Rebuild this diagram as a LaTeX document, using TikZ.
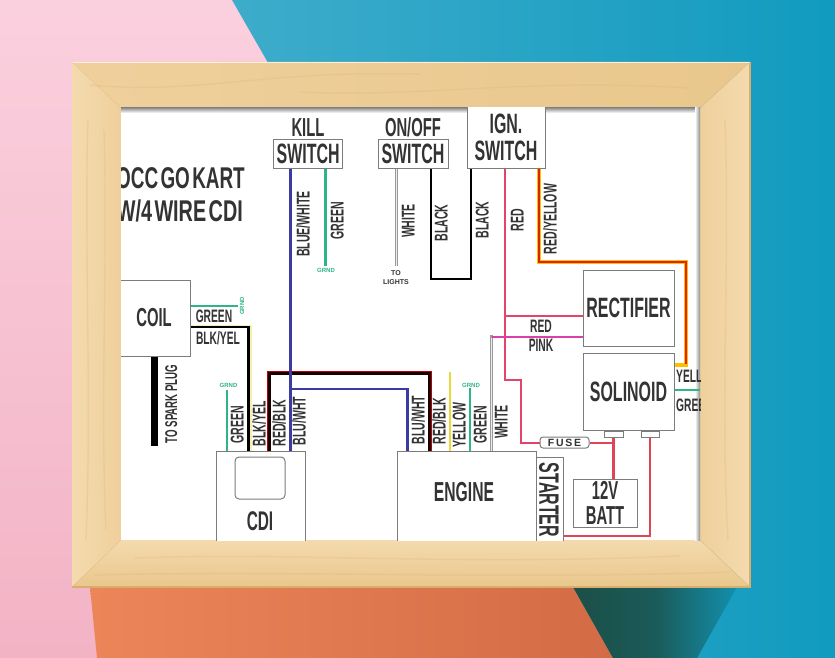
\documentclass[tikz,border=0pt]{standalone}
\usepackage{fontspec}
\setmainfont{Liberation Sans}
\newfontfamily\cond[FakeStretch=0.57]{Liberation Sans}
\newfontfamily\condwide[FakeStretch=0.66,WordSpace=0.45]{Liberation Sans}
\newfontfamily\condtitle[FakeStretch=0.63,WordSpace=0.45]{Liberation Sans}
\usetikzlibrary{calc}
\definecolor{wgreen}{HTML}{2DB584}
\definecolor{wblue}{HTML}{3B3BA0}
\definecolor{wred}{HTML}{E2456A}
\definecolor{wredb}{HTML}{E04555}
\definecolor{wpink}{HTML}{DB3FA8}
\definecolor{wyel}{HTML}{EBD83A}
\definecolor{wgray}{HTML}{9A9A9A}
\definecolor{ink}{HTML}{333333}
\definecolor{boxline}{HTML}{7C7C7C}
\definecolor{pinkA}{HTML}{FBD0DE}
\definecolor{pinkB}{HTML}{F2B3C5}
\definecolor{blueA}{HTML}{3EACCB}
\definecolor{blueB}{HTML}{119BBF}
\definecolor{oranA}{HTML}{EC8558}
\definecolor{oranB}{HTML}{D36C46}
\definecolor{tealA}{HTML}{1C4F47}
\definecolor{woodA}{HTML}{EFD09C}
\definecolor{woodB}{HTML}{E9C78C}
\definecolor{woodC}{HTML}{F4DAAE}
\definecolor{woodD}{HTML}{D9AE6C}
\tikzset{
  lab/.style={inner sep=0pt,text=ink,font=\cond\bfseries\fontsize{#1}{#1}\selectfont,text height=#1*0.72pt,text depth=0pt},
  lab/.default=18,
  vlab/.style={lab=#1,rotate=90},
  vlab/.default=18.5,
  titlelab/.style={inner sep=0pt,text=ink,anchor=east,font=\condwide\bfseries\fontsize{30}{30}\selectfont,text height=21.6pt,text depth=0pt},
  tinylab/.style={inner sep=0pt,text=wgreen,font=\bfseries\fontsize{6}{6}\selectfont},
  boxn/.style={draw=boxline,line width=1pt,fill=white,inner sep=0pt,text=ink,align=center,font=\cond\bfseries\fontsize{28}{27}\selectfont},
  wire/.style={line width=2.6pt,line join=miter,line cap=butt},
  thinwire/.style={line width=2.1pt,line join=miter,line cap=butt},
  woodgrain/.style={line width=1.4pt,draw=woodD,opacity=.22,line cap=round},
}
\begin{document}
\begin{tikzpicture}[x=1pt,y=-1pt]
\useasboundingbox (0,0) rectangle (835,658);
% wall
\shade[top color=pinkA,bottom color=pinkB] (0,0) rectangle (300,658);
\shade[left color=blueA,right color=blueB] (232,0) -- (835,0) -- (835,658) -- (560,658) -- (267,61) -- cycle;
\shade[left color=oranA,right color=oranB] (90,587) -- (573,587) -- (613,658) -- (97,658) -- cycle;
\shade[left color=tealA,right color=blueB!85!tealA,middle color=tealA!85!blueB] (573,587) -- (737,587) -- (697,658) -- (613,658) -- cycle;
% frame
\shade[left color=woodA,right color=woodB] (72,62) -- (750,62) -- (700,108) -- (121,108) -- cycle;
\shade[left color=woodC,right color=woodA] (72,62) -- (121,108) -- (121,540) -- (72,587) -- cycle;
\shade[left color=woodA,right color=woodC] (750,62) -- (700,108) -- (700,540) -- (750,587) -- cycle;
\shade[top color=woodC,bottom color=woodB] (72,587) -- (121,540) -- (700,540) -- (750,587) -- cycle;
\draw[woodgrain] (90,85) .. controls (200,95) and (260,70) .. (420,74);
\draw[woodgrain] (300,92) .. controls (420,98) and (520,78) .. (690,88);
\draw[woodgrain] (135,558) .. controls (300,552) and (450,566) .. (680,556);
\draw[woodgrain] (95,575) .. controls (300,570) and (500,580) .. (730,572);
\draw[woodgrain] (88,120) .. controls (84,240) and (92,400) .. (86,540);
\draw[woodgrain] (104,130) .. controls (108,260) and (100,400) .. (106,530);
\draw[woodgrain] (725,120) .. controls (730,260) and (720,400) .. (728,540);
\draw[woodD,line width=1.2pt] (72,587) -- (750,587) -- (750,62);
\draw[white!60!woodC,line width=1.2pt] (72,62.5) -- (750,62.5);
\draw[woodD,opacity=.35,line width=.6pt] (72,62) -- (121,108) (750,62) -- (700,108) (72,587) -- (121,540) (750,587) -- (700,540);
% picture paper
\fill[white] (121,108) rectangle (700,540);
\begin{scope}
\clip (121,108) rectangle (700,540);
\shade[top color=gray!85,bottom color=white] (121,108) rectangle (700,113);
\shade[left color=white,right color=gray!90] (695,108) rectangle (700,540);
% boxes
\node[boxn,minimum width=69pt,minimum height=28pt] (kill) at (308.2,154) {SWITCH};
\node[boxn,minimum width=70pt,minimum height=28pt] (onoff) at (413,154) {SWITCH};
\node[boxn,minimum width=78pt,minimum height=62pt] (ign) at (506,137) {IGN.\\SWITCH};
\node[boxn,minimum width=91pt,minimum height=76pt] (rect) at (628.5,308) {RECTIFIER};
\node[boxn,minimum width=91pt,minimum height=77pt] (sol) at (628.5,391.5) {SOLINOID};
\node[boxn,minimum width=90pt,minimum height=76pt] (coil) at (145,318) {};
\node[boxn,minimum width=89pt,minimum height=100pt] (cdi) at (260.5,501) {};
\node[boxn,minimum width=50pt,minimum height=42pt,rounded corners=4pt] (cdiin) at (260,478) {};
\node[boxn,minimum width=139pt,minimum height=100pt] (eng) at (466.5,501) {};
\node[boxn,minimum width=27pt,minimum height=92pt] (start) at (549.5,503) {};
\node[boxn,minimum width=64pt,minimum height=48pt,font=\cond\bfseries\fontsize{26}{24.5}\selectfont] (batt) at (605,503) {12V\\BATT};
\node[boxn,minimum width=19pt,minimum height=6pt] (t1) at (613.5,434) {};
\node[boxn,minimum width=18pt,minimum height=6pt] (t2) at (650,434) {};
\node[boxn,minimum width=49pt,minimum height=11pt,rounded corners=3pt,font=\bfseries\fontsize{10.5}{10.5}\selectfont] (fuse) at (564.5,442.5) {F\,U\,S\,E};
% free ends
\coordinate (killgnd) at (325.5,266);
\coordinate (lights) at (396.5,266);
\coordinate (coilgnd) at (238,306);
\coordinate (cdignd) at (227,390);
\coordinate (enggnd) at (470,388);
\coordinate (engyel) at (450,372);
\coordinate (solout) at (700,390);
% wires
\draw[wire,wgreen] (325.5,0 |- kill.south) -- (killgnd);
\draw[line width=3.2pt,wgray] (396.5,0 |- onoff.south) -- (lights);
\draw[line width=1.2pt,white!85!gray] (396.5,0 |- onoff.south) -- (lights);
\draw[wire,black] (431,0 |- onoff.south) -- (431,279) -- (471,279) -- (471,0 |- ign.south);
\draw[wire,wred] (505,0 |- ign.south) -- (505,380) -- (521,380) -- (521,443) -- (fuse.west |- 0,443);
\draw[wire,wred] (505,316) -- (rect.west |- 0,316);
\draw[line width=3.2pt,wgray,line join=miter] (491.5,0 |- eng.north) -- (491.5,337) -- (493,337);
\draw[line width=1.2pt,white!85!gray] (491.5,0 |- eng.north) -- (491.5,338);
\draw[thinwire,wpink] (492,337) -- (rect.west |- 0,337);
\draw[line width=4pt,line join=miter,orange!50!yellow] (539,0 |- ign.south) -- (539,262) -- (686,262) -- (686,365) -- (sol.east |- 0,365);
\draw[thinwire,red!65!orange!85!black] (539,0 |- ign.south) -- (539,262) -- (686,262) -- (686,364);
\draw[wire,wredb] (fuse.east |- 0,443) -- (613.5,443) -- (613.5,0 |- batt.north);
\draw[wire,wredb] (613.5,443) -- (t1.south);
\draw[wire,wredb] (t2.south) -- (650,536) -- (start.east |- 0,536);
\draw[wire,wgreen] (sol.east |- solout) -- (solout);
\draw[wire,wgreen] (coil.east |- coilgnd) -- (coilgnd);
\draw[line width=3.8pt,wyel!40!white,line join=miter] (coil.east |- 0,326.5) -- (250,326.5) -- (250,0 |- cdi.north);
\draw[wire,black] (coil.east |- 0,327) -- (248.5,327) -- (248.5,0 |- cdi.north);
\draw[line width=7pt,black,line cap=butt] (154,0 |- coil.south) -- (154,446);
\draw[thinwire,wgreen] (cdignd) -- (227,0 |- cdi.north);
\draw[line width=4pt,red!75!black,line join=miter] (269,0 |- cdi.north) -- (269,373) -- (430,373) -- (430,0 |- eng.north);
\draw[line width=2.4pt,black!90!red,line join=miter] (269.5,0 |- cdi.north) -- (269.5,373.5) -- (429.5,373.5) -- (429.5,0 |- eng.north);
\draw[thinwire,wblue] (290.5,0 |- kill.south) -- (290.5,0 |- cdi.north);
\draw[thinwire,wblue] (290.5,389) -- (407.5,389) -- (407.5,0 |- eng.north);
\draw[thinwire,wyel] (engyel) -- (450,0 |- eng.north);
\draw[thinwire,wgreen] (enggnd) -- (470,0 |- eng.north);
% labels
\node[lab=26] (lkill) at (308,127) {KILL};
\node[lab=26] (lonoff) at (413,127) {ON/OFF};
\node[titlelab,font=\condtitle\bfseries\fontsize{30}{30}\selectfont] (t1a) at (245,178) {OCC GO KART};
\node[titlelab] (t1b) at (243,211) {W/4 WIRE CDI};
\node[lab=26] (lcoil) at (154,317) {COIL};
\node[lab=27] (lcdi) at (260,521) {CDI};
\node[lab=27.5] (leng) at (464,492) {ENGINE};
\node[lab=28,rotate=-90] (lstart) at (549.5,500) {STARTER};
\node[vlab] (a1) at (303,224) {BLUE/WHITE};
\node[vlab] (a2) at (337,221) {GREEN};
\node[vlab] (a3) at (408,221) {WHITE};
\node[vlab] (a4) at (441,223) {BLACK};
\node[vlab] (a5) at (482,220) {BLACK};
\node[vlab] (a6) at (517,220) {RED};
\node[vlab] (a7) at (550,219) {RED/YELLOW};
\node[lab] (b1) at (541,326) {RED};
\node[lab] (b2) at (541,345) {PINK};
\node[lab] (b3) at (214,316) {GREEN};
\node[lab] (b4) at (218,338) {BLK/YEL};
\node[lab,anchor=west] (b5) at (676,376) {YELLOW};
\node[lab,anchor=west] (b6) at (676,405) {GREEN};
\node[vlab=17] (c1) at (171,404) {TO SPARK PLUG};
\node[vlab] (c2) at (237,425) {GREEN};
\node[vlab] (c3) at (259,424) {BLK/YEL};
\node[vlab] (c4) at (279,423) {RED/BLK};
\node[vlab] (c5) at (299,421) {BLU/WHT};
\node[vlab] (c6) at (418,420) {BLU/WHT};
\node[vlab] (c7) at (439,421) {RED/BLK};
\node[vlab] (c8) at (459,425) {YELLOW};
\node[vlab] (c9) at (480,425) {GREEN};
\node[vlab] (c10) at (501,422) {WHITE};
\node[tinylab] (g1) at (326,270.5) {GRND};
\node[tinylab,rotate=90] (g2) at (242,306) {GRND};
\node[tinylab] (g3) at (228.5,385) {GRND};
\node[tinylab] (g4) at (471,385) {GRND};
\node[inner sep=0pt,align=center,text=ink,font=\bfseries\fontsize{7}{9}\selectfont] (tl) at (396,277.5) {TO\\LIGHTS};
\end{scope}
\end{tikzpicture}
\end{document}
